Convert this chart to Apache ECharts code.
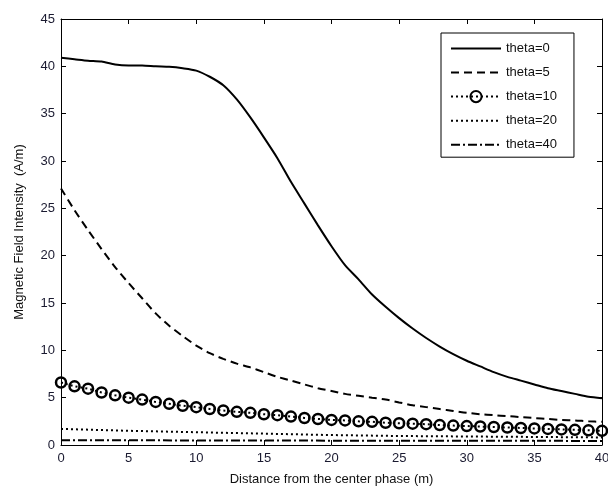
<!DOCTYPE html>
<html>
<head>
<meta charset="utf-8">
<script src="https://cdn.jsdelivr.net/npm/echarts@6/dist/echarts.min.js"></script>
<style>
  html, body { margin: 0; padding: 0; background: #fff; }
  #chart { width: 608px; height: 487px; }
</style>
</head>
<body>
<div id="chart"></div>
<script>
// distance from the center phase (m)
const distance = [0, 1, 2, 3, 4, 5, 6, 7, 8, 9, 10, 11, 12, 13, 14, 15, 16, 17, 18, 19, 20,
  21, 22, 23, 24, 25, 26, 27, 28, 29, 30, 31, 32, 33, 34, 35, 36, 37, 38, 39, 40];
const distanceCoarse = [0, 5, 10, 15, 20, 25, 30, 35, 40];

const theta0 = [40.9, 40.75, 40.6, 40.5, 40.2, 40.1, 40.1, 40.0, 39.95, 39.8, 39.55,
  38.9, 38.0, 36.5, 34.6, 32.5, 30.3, 27.8, 25.5, 23.2, 21.0,
  19.0, 17.5, 15.9, 14.6, 13.4, 12.3, 11.3, 10.4, 9.6, 8.9,
  8.3, 7.7, 7.2, 6.8, 6.4, 6.0, 5.7, 5.4, 5.1, 4.95];
const theta5 = [27.1, 24.8, 22.7, 20.7, 18.8, 17.1, 15.5, 13.9, 12.6, 11.5, 10.5,
  9.7, 9.1, 8.6, 8.2, 7.7, 7.2, 6.8, 6.4, 6.0, 5.7,
  5.4, 5.2, 5.0, 4.8, 4.5, 4.2, 4.0, 3.8, 3.6, 3.4,
  3.25, 3.15, 3.05, 2.95, 2.85, 2.75, 2.65, 2.6, 2.5, 2.45];
const theta10 = [6.6, 6.2, 5.95, 5.55, 5.25, 5.0, 4.8, 4.55, 4.35, 4.15, 4.0,
  3.8, 3.65, 3.5, 3.4, 3.25, 3.15, 3.0, 2.85, 2.75, 2.65,
  2.6, 2.5, 2.45, 2.35, 2.3, 2.25, 2.2, 2.1, 2.05, 2.0,
  1.95, 1.9, 1.85, 1.8, 1.75, 1.7, 1.65, 1.6, 1.55, 1.5];
const theta20 = [1.7, 1.5, 1.35, 1.2, 1.05, 0.95, 0.9, 0.85, 0.8];
const theta40 = [0.5, 0.5, 0.48, 0.47, 0.46, 0.45, 0.45, 0.44, 0.43];

const legendNames = ['theta=0', 'theta=5', 'theta=10', 'theta=20', 'theta=40'];
const xTicks = { min: 0, max: 40, interval: 5 };
const yTicks = { min: 0, max: 45, interval: 5 };

const font = 'Liberation Sans, Arial, sans-serif';
const pair = (xs, ys) => xs.map((x, i) => [x, ys[i]]);

const chart = echarts.init(document.getElementById('chart'), null, { renderer: 'canvas' });

const baseAxis = {
  axisLine: { show: true, onZero: false, lineStyle: { color: '#000', width: 1 } },
  axisTick: { show: true, inside: true, length: 5, lineStyle: { color: '#000' } },
  splitLine: { show: false }
};

const lineSeries = (name, data, lineType, smooth) => ({
  name: name,
  type: 'line',
  data: data,
  symbol: 'none',
  smooth: smooth || false,
  lineStyle: { color: '#000', width: 2, type: lineType },
  itemStyle: { color: '#000' },
  z: 3
});

// legend: only theta=10 shows a marker
const legendData = legendNames.map((n, i) =>
  i === 2 ? { name: n } : { name: n, itemStyle: { opacity: 0 } });

const option = {
  backgroundColor: '#fff',
  animation: false,
  grid: { left: 61, right: 6, top: 19, bottom: 42, outerBoundsMode: 'none', containLabel: false },
  xAxis: [
    Object.assign({}, baseAxis, {
      type: 'value',
      min: xTicks.min, max: xTicks.max, interval: xTicks.interval,
      name: 'Distance from the center phase (m)',
      nameLocation: 'middle',
      nameGap: 28,
      nameTextStyle: { color: '#111', fontSize: 13, fontFamily: font },
      axisLabel: { color: '#1a1a30', fontSize: 13, fontFamily: font, margin: 7 }
    }),
    Object.assign({}, baseAxis, {
      type: 'value', position: 'top',
      min: xTicks.min, max: xTicks.max, interval: xTicks.interval,
      axisLabel: { show: false }
    })
  ],
  yAxis: [
    Object.assign({}, baseAxis, {
      type: 'value',
      min: yTicks.min, max: yTicks.max, interval: yTicks.interval,
      name: 'Magnetic Field Intensity  (A/m)',
      nameLocation: 'middle',
      nameGap: 35,
      nameTextStyle: { color: '#111', fontSize: 13, fontFamily: font },
      axisLabel: { color: '#1a1a30', fontSize: 13, fontFamily: font, margin: 6 }
    }),
    Object.assign({}, baseAxis, {
      type: 'value', position: 'right',
      min: yTicks.min, max: yTicks.max, interval: yTicks.interval,
      axisLabel: { show: false }
    })
  ],
  legend: {
    data: legendData,
    orient: 'vertical',
    left: 441,
    top: 33,
    itemWidth: 50,
    itemHeight: 14,
    itemGap: 11,
    padding: [9, 17, 6, 9],
    borderColor: '#000',
    borderWidth: 1,
    backgroundColor: '#fff',
    textStyle: { color: '#111', fontSize: 13, fontFamily: font }
  },
  series: [
    lineSeries(legendNames[0], pair(distance, theta0), 'solid', 0.25),
    lineSeries(legendNames[1], pair(distance, theta5), [8, 5], 0.25),
    {
      name: legendNames[2],
      type: 'line',
      data: pair(distance, theta10),
      symbol: 'circle',
      symbolSize: 10,
      showSymbol: true,
      lineStyle: { color: '#000', width: 2, type: [2, 3] },
      itemStyle: { color: 'rgba(0,0,0,0)', borderColor: '#000', borderWidth: 2.5 },
      z: 4
    },
    lineSeries(legendNames[3], pair(distanceCoarse, theta20), [2, 3]),
    lineSeries(legendNames[4], pair(distanceCoarse, theta40), [9, 3, 2, 3])
  ]
};

chart.setOption(option);
</script>
</body>
</html>
